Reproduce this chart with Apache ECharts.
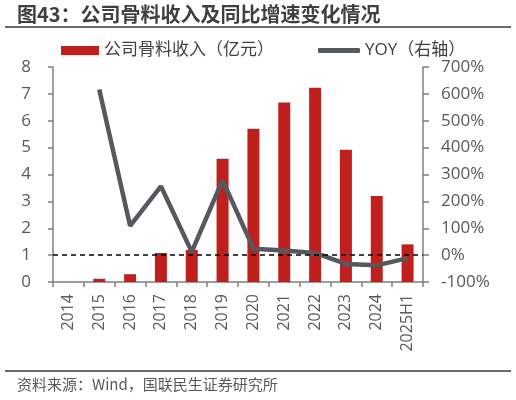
<!DOCTYPE html>
<html>
<head>
<meta charset="utf-8">
<script src="https://cdn.jsdelivr.net/npm/echarts@6/dist/echarts.min.js"></script>
<style>html,body{margin:0;padding:0;background:#fff}#c{width:516px;height:400px}</style>
</head>
<body>
<div id="c"></div>
<script>
var categories = ['2014','2015','2016','2017','2018','2019','2020','2021','2022','2023','2024','2025H1'];
var revenue = [0, 0.12, 0.29, 1.08, 1.19, 4.59, 5.70, 6.68, 7.23, 4.92, 3.20, 1.40];
var yoy = [null, 616, 109, 256, 12, 279, 24, 17, 8, -33, -38, -11];
var leftTicks = {min: 0, max: 8, interval: 1};
var rightTicks = {min: -100, max: 700, interval: 100};

var FONT = '"Open Sans", "Noto Sans CJK SC", sans-serif';
var chart = echarts.init(document.getElementById('c'), null, {renderer: 'canvas'});
chart.setOption({
  animation: false,
  backgroundColor: '#fff',
  textStyle: {fontFamily: FONT},
  grid: {left: 53, right: 93, top: 67, bottom: 118, containLabel: false},
  graphic: [
    {type: 'text', left: 17, top: 4, style: {text: '图43：公司骨料收入及同比增速变化情况', font: 'bold 20px "Noto Sans CJK SC", sans-serif', fill: '#3f3f3f'}},
    {type: 'line', shape: {x1: 5, y1: 27, x2: 511, y2: 27}, style: {stroke: '#6b6b6b', lineWidth: 2}},
    {type: 'line', shape: {x1: 5, y1: 371, x2: 511, y2: 371}, style: {stroke: '#6b6b6b', lineWidth: 2}},
    {type: 'text', left: 17, top: 377, style: {text: '资料来源：Wind，国联民生证券研究所', font: '15px "Noto Sans CJK SC", sans-serif', fill: '#595959'}}
  ],
  legend: [
    {left: 56, top: 37, itemWidth: 38, itemHeight: 9, itemGap: 5, data: [{name: '公司骨料收入（亿元）', icon: 'rect'}],
     textStyle: {fontSize: 17, color: '#404040', fontFamily: FONT}},
    {left: 313, top: 37, itemWidth: 42, itemHeight: 5, data: [{name: 'YOY（右轴）', icon: 'roundRect'}],
     textStyle: {fontSize: 17, color: '#404040', fontFamily: FONT}}
  ],
  xAxis: {
    type: 'category', data: categories, boundaryGap: true,
    axisLine: {lineStyle: {color: '#7f7f7f', width: 1.5}},
    axisTick: {show: true, length: 5, lineStyle: {color: '#7f7f7f', width: 1.5}},
    axisLabel: {rotate: 90, fontSize: 16, color: '#595959', margin: 12, interval: 0}
  },
  yAxis: [
    {type: 'value', min: leftTicks.min, max: leftTicks.max, interval: leftTicks.interval, position: 'left',
     axisLine: {show: true, lineStyle: {color: '#7f7f7f', width: 1.5}},
     axisTick: {show: true, length: 5, lineStyle: {color: '#7f7f7f', width: 1.5}},
     splitLine: {show: false},
     axisLabel: {fontSize: 17, color: '#595959', margin: 22}},
    {type: 'value', min: rightTicks.min, max: rightTicks.max, interval: rightTicks.interval, position: 'right',
     axisLine: {show: true, lineStyle: {color: '#7f7f7f', width: 1.5}},
     axisTick: {show: true, length: 6, lineStyle: {color: '#7f7f7f', width: 1.5}},
     splitLine: {show: false},
     axisLabel: {fontSize: 17, color: '#595959', margin: 18, formatter: '{value}%'}}
  ],
  series: [
    {name: '公司骨料收入（亿元）', type: 'bar', yAxisIndex: 0, data: revenue, barWidth: 12,
     itemStyle: {color: '#C0201D'}},
    {name: 'YOY（右轴）', type: 'line', yAxisIndex: 1, data: yoy, symbol: 'none', smooth: false,
     lineStyle: {color: '#55585C', width: 4.5}, itemStyle: {color: '#55585C'},
     markLine: {silent: true, symbol: 'none', label: {show: false},
       lineStyle: {color: '#000', type: [5, 4], width: 1.5},
       data: [{yAxis: 0}]}}
  ]
});
</script>
</body>
</html>
